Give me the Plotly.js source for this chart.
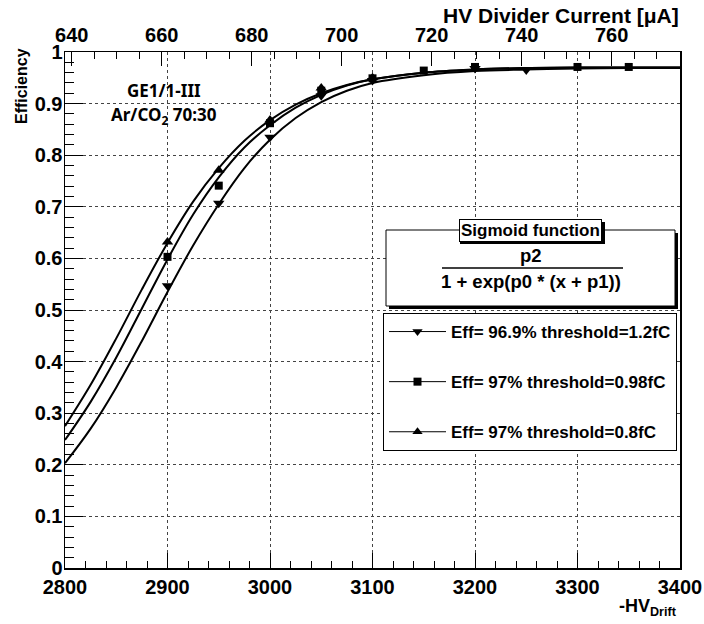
<!DOCTYPE html>
<html>
<head>
<meta charset="utf-8">
<script src="https://cdn.plot.ly/plotly-3.0.1.min.js"></script>
<style>html,body{margin:0;padding:0;background:#fff;}#chart{width:704px;height:624px;}</style>
</head>
<body>
<div id="chart"></div>
<script>
// ---- data ----
const curveX   = [2800,2825,2850,2875,2900,2925,2950,2975,3000,3025,3050,3075,3100,3150,3200,3250,3300,3350,3400];
const curve12  = [0.203,0.270,0.350,0.440,0.535,0.625,0.705,0.775,0.830,0.872,0.903,0.925,0.940,0.955,0.963,0.966,0.968,0.969,0.969];
const curve098 = [0.248,0.322,0.408,0.503,0.598,0.685,0.757,0.815,0.858,0.892,0.917,0.935,0.947,0.960,0.966,0.969,0.970,0.970,0.970];
const curve08  = [0.275,0.355,0.445,0.540,0.630,0.710,0.775,0.828,0.868,0.898,0.920,0.936,0.947,0.960,0.966,0.969,0.970,0.970,0.970];

const pts12X  = [2900,2950,3000,3050,3100,3200,3250];
const pts12Y  = [0.547,0.707,0.835,0.915,0.945,0.968,0.965];
const pts098X = [2900,2950,3000,3050,3100,3150,3200,3300,3350];
const pts098Y = [0.603,0.741,0.862,0.925,0.949,0.964,0.971,0.971,0.971];
const pts08X  = [2900,2950,3000,3050,3100];
const pts08Y  = [0.632,0.771,0.868,0.930,0.950];

const legendLabels = ['Eff= 96.9% threshold=1.2fC','Eff= 97% threshold=0.98fC','Eff= 97% threshold=0.8fC'];
const symbols = ['triangle-down','square','triangle-up'];

const xTickVals = [2800,2900,3000,3100,3200,3300,3400];
const xTickText = ['2800','2900','3000','3100','3200','3300','3400'];
const yTickVals = [0,0.1,0.2,0.3,0.4,0.5,0.6,0.7,0.8,0.9,1];
const yTickText = ['0','0.1','0.2','0.3','0.4','0.5','0.6','0.7','0.8','0.9','1'];
const topTickVals = [640,660,680,700,720,740,760];
const topTickText = ['640','660','680','700','720','740','760'];

const xRange = [2800,3400];
const yRange = [0,1];
const topRange = [638.5,775.2];  // HV divider current matching the drift range

// ---- layout helpers (pixel -> paper) ----
const L=65, R=680, T=52, B=568;
const px = v => (v-L)/(R-L);
const py = v => (B-v)/(B-T);
const bold = a => a.map(s => '<b>'+s+'</b>');

const FONT = 'Liberation Sans, Arial, sans-serif';
const curves = [curve12, curve098, curve08];
const ptsX = [pts12X, pts098X, pts08X];
const ptsY = [pts12Y, pts098Y, pts08Y];

const traces = [];
for (let i=0;i<3;i++){
  traces.push({x:curveX, y:curves[i], mode:'lines', line:{color:'black', width:2, shape:'spline', smoothing:1},
               showlegend:false, hoverinfo:'skip'});
  traces.push({x:ptsX[i], y:ptsY[i], mode:'markers',
               marker:{symbol:symbols[i], color:'black', size: symbols[i]==='square'?8:10},
               showlegend:false});
}
for (let i=0;i<3;i++){
  traces.push({x:[null], y:[null], mode:'lines+markers', name:'<b>'+legendLabels[i]+'</b>', legendgroup:'g'+i,
               line:{color:'black', width:1}, marker:{symbol:symbols[i], color:'black', size: symbols[i]==='square'?8:9}});
}
// dummy trace on top axis
traces.push({x:[700], y:[null], xaxis:'x2', mode:'markers', showlegend:false, hoverinfo:'skip'});

const tickFont = {family:FONT, size:20, color:'black'};
const txt = (x,y,text,size,extra) => Object.assign({xref:'paper', yref:'paper', x:px(x), y:py(y),
   xanchor:'center', yanchor:'middle', text:text, showarrow:false,
   font:{family:FONT, size:size, color:'black'}}, extra||{});

const layout = {
  width:704, height:624,
  margin:{l:L, r:704-R, t:T, b:624-B},
  paper_bgcolor:'white', plot_bgcolor:'white',
  showlegend:true,
  xaxis:{range:xRange, tickmode:'array', tickvals:xTickVals, ticktext:bold(xTickText),
         ticks:'inside', ticklen:15, tickwidth:1, tickcolor:'black',
         minor:{dtick:20, tick0:2800, ticks:'inside', ticklen:7, tickcolor:'black', showgrid:false},
         showline:true, linecolor:'black', linewidth:1.5, mirror:true,
         showgrid:true, gridcolor:'#444', griddash:'dot', gridwidth:1, zeroline:false,
         tickfont:tickFont, ticklabelstandoff:0},
  xaxis2:{range:topRange, overlaying:'x', side:'top', anchor:'y', tickmode:'array',
         tickvals:topTickVals, ticktext:bold(topTickText),
         ticks:'inside', ticklen:14, tickwidth:1, tickcolor:'black',
         minor:{dtick:5, tick0:640, ticks:'inside', ticklen:7, tickcolor:'black', showgrid:false},
         showline:false, showgrid:false, zeroline:false, tickfont:tickFont, ticklabelstandoff:5},
  yaxis:{range:yRange, tickmode:'array', tickvals:yTickVals, ticktext:bold(yTickText),
         ticks:'inside', ticklen:18, tickwidth:1, tickcolor:'black',
         minor:{dtick:0.02, tick0:0, ticks:'inside', ticklen:9, tickcolor:'black', showgrid:false},
         showline:true, linecolor:'black', linewidth:1.5, mirror:true,
         showgrid:true, gridcolor:'#444', griddash:'dot', gridwidth:1, zeroline:false,
         tickfont:tickFont, ticklabelstandoff:-3},
  legend:{x:px(383), y:py(313), xanchor:'left', yanchor:'top', bgcolor:'white',
          bordercolor:'black', borderwidth:1, itemwidth:57, tracegroupgap:25,
          font:{family:FONT, size:17, color:'black'}},
  shapes:[
    // sigmoid box shadow + box
    {type:'rect', xref:'paper', yref:'paper', x0:px(389), x1:px(678), y0:py(233), y1:py(309),
     fillcolor:'black', line:{width:0}},
    {type:'rect', xref:'paper', yref:'paper', x0:px(386), x1:px(675), y0:py(230), y1:py(306),
     fillcolor:'white', line:{color:'black', width:1}},
    // shadow of title label
    {type:'rect', xref:'paper', yref:'paper', x0:px(460), x1:px(605), y0:py(222), y1:py(244),
     fillcolor:'black', line:{width:0}},
    // fraction bar
    {type:'line', xref:'paper', yref:'paper', x0:px(442), x1:px(623), y0:py(268), y1:py(268),
     line:{color:'black', width:1.5}}
  ],
  annotations:[
    txt(530,231,'<b>Sigmoid function</b>',17,{bgcolor:'white', bordercolor:'black', borderwidth:1, borderpad:1}),
    txt(531,255,'<b>p2</b>',18.5),
    txt(531,281,'<b>1 + exp(p0 * (x + p1))</b>',18.5),
    txt(164,90,'<b>GE1/1-III</b>',17,{font:{family:'Noto Sans, sans-serif', size:17, color:'black'}}),
    txt(164,115,'<b>Ar/CO<sub>2</sub> 70:30</b>',17,{font:{family:'Noto Sans, sans-serif', size:17, color:'black'}}),
    txt(21,86,'<b>Efficiency</b>',16,{textangle:-90}),
    txt(681,15,'<b>HV Divider Current [\u03bcA]</b>',21,{xanchor:'right'}),
    txt(679,607,'<b>-HV<sub>Drift</sub></b>',18,{xanchor:'right'})
  ]
};

Plotly.newPlot('chart', traces, layout, {staticPlot:true, displayModeBar:false});
</script>
</body>
</html>
